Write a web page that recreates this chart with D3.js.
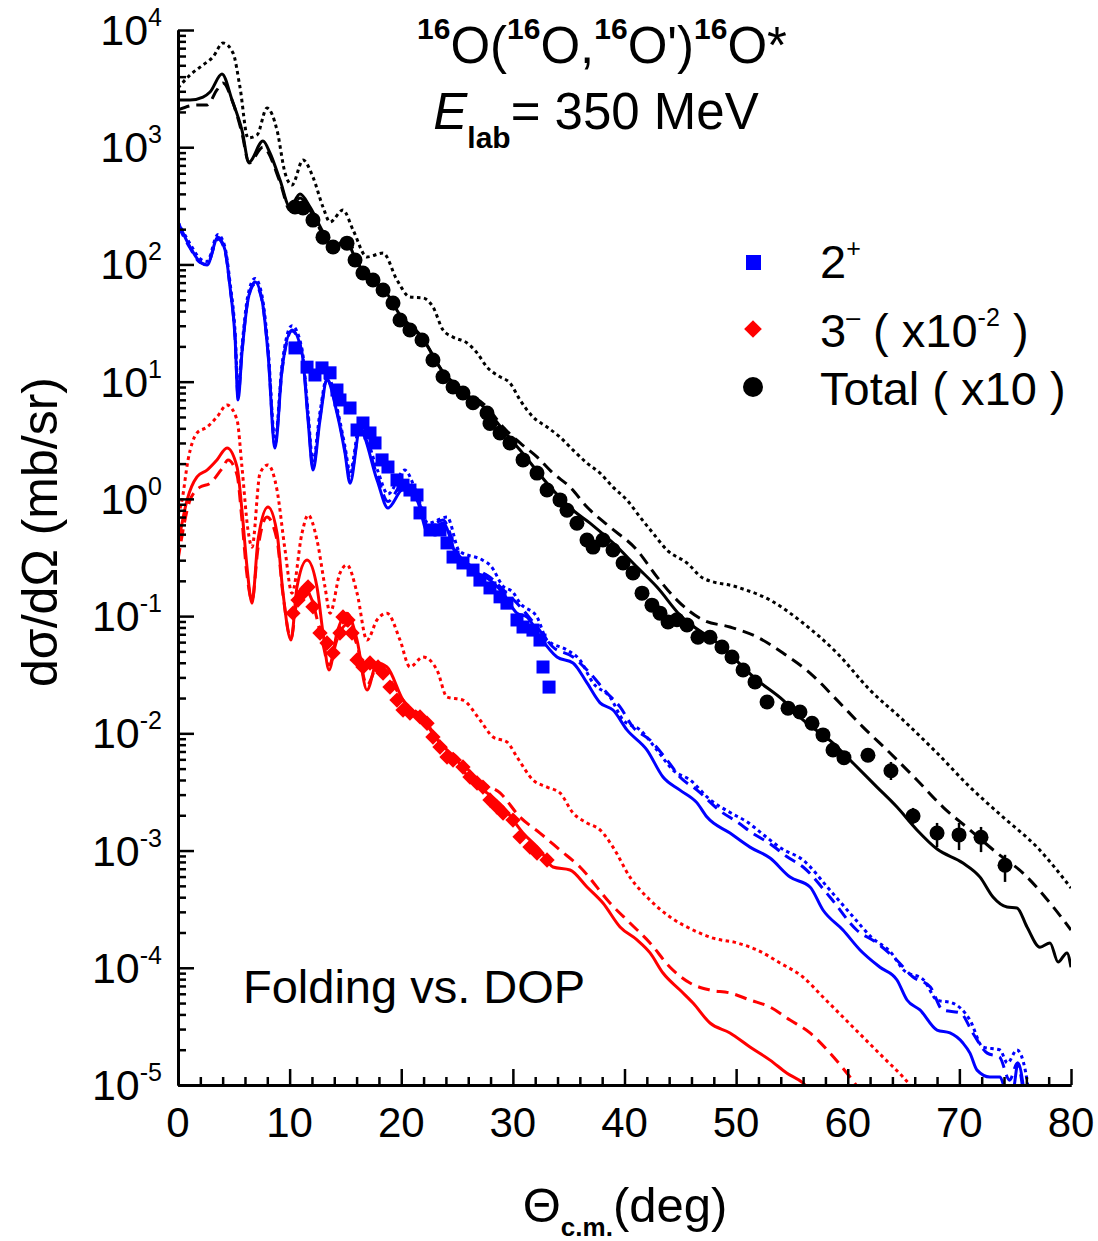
<!DOCTYPE html>
<html>
<head>
<meta charset="utf-8">
<script src="https://cdn.jsdelivr.net/npm/d3@7/dist/d3.min.js"></script>
<style>
  body { margin: 0; background: #fff; }
  text { font-family: "Liberation Sans", Arial, sans-serif; fill: #000; }
</style>
</head>
<body>
<div id="chart"></div>
<script>
// ---- data: [theta (deg), dsigma/dOmega (mb/sr)] ----
const totCirc = [[10.48,309],[11.2,303],[12.09,239],[12.99,171],[13.89,141],[15.14,152],[15.86,109],[16.57,84.5],[17.47,73.6],[18.37,60.5],[19.26,46.9],[19.89,33.6],[20.78,27.6],[21.86,22.7],[22.84,15.3],[23.74,11.0],[24.64,9.0],[25.53,8.0],[26.43,6.6],[27.68,5.4],[27.95,4.4],[28.85,3.65],[29.74,3.0],[30.91,2.15],[32.16,1.66],[33.06,1.19],[34.22,0.98],[34.85,0.80],[35.74,0.62],[36.64,0.446],[37.18,0.388],[38.07,0.446],[38.97,0.366],[39.87,0.284],[40.76,0.233],[41.57,0.157],[42.46,0.124],[43.18,0.106],[43.9,0.089],[44.7,0.093],[45.6,0.084],[46.58,0.066],[47.66,0.066],[48.73,0.0545],[49.63,0.0448],[50.62,0.0347],[51.69,0.0274],[52.77,0.0185],[54.65,0.0164],[55.72,0.0152],[56.8,0.0122],[57.78,0.0097],[58.68,0.0072],[59.66,0.0062],[61.81,0.0065],[63.87,0.0048],[65.85,0.00197],[68.0,0.00141],[69.97,0.00136],[71.94,0.00130],[74.09,0.00075]]
// error bars: [theta, low, high]
const totErr = [[63.87,0.0040,0.0057],[65.85,0.00169,0.00231],[68.0,0.00107,0.00172],[69.97,0.00101,0.00172],[71.94,0.00097,0.00159],[74.09,0.00054,0.00092]]
const totSolid = [[0,2530],[1.08,2530],[2.24,2680],[2.87,2960],[3.94,4210],[4.84,2530],[5.73,1400],[6.36,748],[7.61,1130],[8.24,893],[9.14,525],[10.03,309],[10.93,399],[11.83,309],[12.99,189],[13.89,138],[14.96,162],[16.04,105],[17.2,73.6],[18.37,63],[19.89,37.1],[21.86,24.0],[23.74,12.1],[25.53,8.17],[27.68,5.73],[29.12,3.87],[30.64,2.61],[33.59,1.19],[35.39,0.80],[36.91,0.622],[38.97,0.421],[41.12,0.262],[42.91,0.177],[44.97,0.102],[48.55,0.0568],[51.87,0.0285],[54.2,0.0192],[55.99,0.0130],[58.68,0.00826],[60.47,0.00558],[62.62,0.00348],[64.41,0.00235],[66.2,0.00150],[68.0,0.00103],[70.32,0.000783],[71.85,0.000594],[73.01,0.000402],[74.27,0.000330],[75.16,0.000324],[76.06,0.000223],[77.22,0.000150],[78.12,0.000163],[78.84,0.000112],[79.64,0.000134],[80,0.000101]]
const totDash = [[0,2080],[1.7,2290],[2.6,2290],[3.49,3080],[4.03,3530],[4.93,2380],[5.73,1320],[6.36,733],[7.61,1000],[9.14,505],[10.03,291],[10.93,369],[11.8,291],[13.89,142],[15.14,158],[16.57,86],[18.37,60.5],[19.89,34.9],[21.86,23.6],[23.74,12.1],[25.53,8.49],[27.68,6.08],[29.12,4.10],[30.64,3.0],[32.16,2.28],[33.59,1.66],[35.12,1.26],[36.64,0.853],[38.7,0.575],[41.12,0.366],[42.91,0.216],[44.7,0.137],[47.03,0.0927],[49.45,0.0807],[51.87,0.0664],[54.2,0.0484],[56.62,0.0327],[59.04,0.0192],[61.37,0.0113],[63.79,0.00679],[66.2,0.0040],[68.53,0.00235],[70.95,0.00150],[73.37,0.000953],[75.7,0.000643],[78.12,0.000357],[80,0.000210]]
const totDot = [[0,3200],[1.08,4130],[2.24,5030],[3.14,5890],[4.03,7750],[4.93,6370],[5.55,3260],[6.27,1200],[7.08,1270],[7.97,2160],[8.87,1400],[9.59,603],[10.21,476],[11.2,778],[12.09,557],[12.99,309],[13.62,230],[14.78,291],[15.68,197],[16.93,116],[18.37,125],[19.62,73.6],[20.78,52.7],[21.95,51.8],[22.84,43.4],[23.74,27.6],[24.64,24.0],[25.89,21.4],[26.79,17.6],[27.68,13.3],[28.85,11.0],[29.74,9.75],[30.64,6.98],[31.8,5.0],[33.06,4.10],[34.22,3.37],[35.39,2.61],[36.64,2.02],[37.81,1.66],[38.97,1.26],[40.22,0.977],[41.39,0.70],[42.55,0.51],[43.81,0.366],[45.6,0.284],[47.03,0.211],[50.08,0.177],[53.04,0.137],[55.99,0.0873],[59.04,0.0484],[61.99,0.0234],[64.95,0.0130],[68.0,0.00679],[70.95,0.00348],[73.91,0.00193],[76.95,0.00107],[80,0.000479]]

const q2Sq = [[10.48,19.4],[11.56,13.3],[12.27,11.4],[12.9,13.1],[13.62,11.9],[14.24,8.49],[14.51,6.98],[15.41,5.96],[16.04,3.87],[16.57,4.44],[17.2,3.65],[17.65,3.0],[18.28,2.15],[18.81,1.87],[19.62,1.45],[20.16,1.31],[20.78,1.19],[21.41,1.08],[21.68,0.759],[22.58,0.543],[23.47,0.543],[24.1,0.421],[24.64,0.319],[25.53,0.284],[26.43,0.247],[27.05,0.203],[27.95,0.174],[28.85,0.146],[29.47,0.129],[30.37,0.0927],[30.91,0.0807],[31.8,0.076],[32.43,0.0625],[32.7,0.0368],[33.24,0.0248]]
const q2Solid = [[0,230],[1.08,141],[1.97,105],[2.6,98.9],[3.58,171],[4.21,133],[4.66,64.2],[5.11,24.0],[5.38,6.98],[5.73,17.6],[6.27,49.8],[6.9,70.8],[7.53,49.8],[8.06,17.6],[8.69,2.72],[9.32,12.6],[10.21,27.6],[11.11,17.6],[11.65,4.71],[12.09,1.76],[12.72,4.71],[13.35,10.3],[14.24,5.41],[14.96,2.46],[15.41,1.36],[16.3,3.87],[17.83,1.45],[18.81,0.836],[20.16,1.2],[21.41,0.977],[22.4,0.511],[23.74,0.622],[24.99,0.319],[26.79,0.233],[27.95,0.203],[29.12,0.157],[30.37,0.106],[31.27,0.0982],[32.43,0.0664],[33.95,0.0448],[35.39,0.0398],[36.64,0.0269],[37.81,0.0182],[38.97,0.0158],[40.22,0.0107],[42.02,0.0072],[43.45,0.00424],[44.97,0.00328],[46.5,0.00255],[47.39,0.00193],[49.45,0.00141],[51.24,0.00107],[53.04,0.000863],[54.83,0.000594],[56.62,0.000489],[57.78,0.000311],[59.57,0.000210],[61.1,0.000142],[62.89,0.000101],[64.41,7.87e-5],[65.31,5.31e-5],[66.47,4.37e-5],[68.0,2.94e-5],[69.16,2.78e-5],[70.32,2.28e-5],[70.95,1.87e-5],[71.58,1.34e-5],[72.74,1.17e-5],[73.64,1.17e-5],[74.2,9.0e-6],[74.8,9.0e-6],[75.25,1.54e-5],[75.8,8.7e-6]]
const q2Dash = [[0,215],[1.08,138],[1.97,104],[2.6,100],[3.58,165],[4.21,130],[4.66,64],[5.11,24],[5.38,7.5],[5.73,18],[6.27,50],[6.9,68],[7.53,49],[8.06,18],[8.69,2.9],[9.32,12.5],[10.21,27],[11.11,17.8],[11.65,5],[12.09,1.9],[12.72,5],[13.35,10.5],[14.24,5.6],[14.96,2.6],[15.41,1.5],[16.3,3.9],[17.83,1.6],[18.81,0.95],[20.16,1.35],[21.41,1.05],[22.4,0.58],[23.74,0.66],[24.99,0.35],[26.79,0.25],[27.95,0.215],[29.12,0.168],[30.0,0.14],[30.91,0.113],[32.16,0.0807],[33.59,0.0545],[35.39,0.0448],[36.64,0.0347],[38.43,0.0221],[39.6,0.0168],[40.76,0.0113],[42.29,0.00877],[43.81,0.00592],[44.97,0.00424],[46.5,0.00328],[48.5,0.0022],[50.1,0.00175],[51.5,0.0014],[53.0,0.00115],[54.6,0.00088],[56.0,0.000724],[58.4,0.000402],[60.8,0.000210],[62.6,0.000163],[64.4,0.000116],[65.85,8.34e-5],[67.4,6.85e-5],[68.5,4.37e-5],[70.1,4.11e-5],[71.2,2.78e-5],[72.5,1.87e-5],[73.6,1.73e-5],[74.5,1.10e-5],[75.2,1.54e-5],[75.7,9.0e-6]]
const q2Dot = [[0,230],[1.08,150],[1.97,112],[2.6,106],[3.58,180],[4.21,140],[4.66,70],[5.11,27],[5.38,8.5],[5.73,20],[6.27,55],[6.9,76],[7.53,54],[8.06,20],[8.69,3.2],[9.32,14],[10.21,30],[11.11,19],[11.65,5.5],[12.09,2.1],[12.72,5.5],[13.4,11.4],[14.24,6],[14.96,2.8],[15.41,1.7],[16.3,4.3],[17.83,1.8],[18.81,1.1],[20.3,1.76],[21.41,1.1],[22.4,0.62],[24.1,0.70],[25.2,0.36],[27.3,0.30],[28.0,0.27],[29.12,0.18],[30.0,0.16],[30.64,0.129],[32.16,0.0982],[33.06,0.0625],[34.85,0.0514],[36.0,0.0423],[37.18,0.0269],[38.7,0.0204],[39.87,0.0130],[41.39,0.0107],[42.91,0.0072],[44.35,0.00486],[45.87,0.0040],[47.7,0.0027],[49.5,0.0021],[51.0,0.00175],[52.5,0.00135],[54.0,0.00105],[55.99,0.00083],[58.4,0.00046],[60.5,0.000271],[62.1,0.000183],[63.9,0.000134],[65.0,9.57e-5],[66.8,7.87e-5],[68.0,5.31e-5],[69.4,5.0e-5],[70.95,3.58e-5],[72.1,2.11e-5],[73.64,1.99e-5],[74.3,1.54e-5],[75.16,1.99e-5],[75.9,1.34e-5],[76.2,9.0e-6]]

const q3Dia = [[10.3,0.106],[10.75,0.137],[11.2,0.157],[11.65,0.177],[12.09,0.120],[12.72,0.0718],[13.35,0.059],[13.89,0.0484],[14.51,0.0718],[14.78,0.0982],[15.23,0.0927],[15.59,0.0718],[16.04,0.0423],[16.57,0.0368],[17.2,0.0398],[17.92,0.0368],[18.37,0.0327],[18.99,0.0248],[19.62,0.0192],[20.16,0.0158],[20.78,0.0149],[21.68,0.0138],[22.31,0.0122],[22.84,0.0093],[23.47,0.00764],[24.1,0.00628],[24.64,0.00592],[25.53,0.00516],[26.16,0.00424],[26.79,0.00377],[27.32,0.00348],[27.95,0.0027],[28.58,0.00235],[29.12,0.00209],[30.01,0.00182],[30.64,0.00131],[31.53,0.00107],[32.16,0.000953],[33.06,0.00083]]
const q3Solid = [[0,0.404],[0.81,0.977],[1.7,1.54],[2.6,1.76],[3.49,2.15],[4.39,2.72],[5.29,1.87],[5.73,0.80],[6.18,0.262],[6.63,0.129],[7.17,0.446],[8.06,0.853],[8.87,0.511],[9.41,0.157],[10.12,0.0625],[10.66,0.177],[11.56,0.301],[12.45,0.177],[12.99,0.0718],[13.53,0.0347],[14.24,0.0718],[15.14,0.106],[16.04,0.0625],[16.93,0.0234],[17.83,0.0398],[18.72,0.0368],[20.16,0.0192],[21.95,0.0130],[23.47,0.00826],[24.99,0.00592],[26.16,0.0040],[27.68,0.0031],[29.12,0.00235],[30.91,0.00141],[32.43,0.00101],[33.59,0.000724],[35.12,0.000683],[36.64,0.000489],[38.07,0.000357],[39.6,0.000223],[41.12,0.000173],[42.29,0.000134],[43.45,9.02e-5],[44.97,6.46e-5],[46.14,5.0e-5],[47.66,3.38e-5],[49.45,2.78e-5],[51.24,2.11e-5],[53.04,1.63e-5],[54.56,1.26e-5],[55.99,1.04e-5],[56.6,9.0e-6]]
const q3Dash = [[0,0.301],[1.08,0.977],[1.97,1.26],[2.87,1.36],[4.03,1.87],[4.48,2.15],[5.29,1.6],[5.73,0.66],[6.18,0.224],[6.63,0.137],[7.17,0.381],[7.97,0.70],[8.87,0.446],[9.41,0.151],[10.12,0.065],[10.66,0.137],[11.2,0.177],[12.0,0.137],[12.9,0.0625],[13.53,0.0383],[14.24,0.0625],[15.05,0.0839],[16.04,0.0567],[16.93,0.0258],[17.83,0.036],[18.99,0.0285],[20.16,0.0192],[21.95,0.0135],[23.47,0.0084],[24.99,0.00628],[27.05,0.00385],[28.85,0.0031],[30.64,0.00193],[32.43,0.00141],[34.22,0.00101],[36.01,0.000724],[38.7,0.000357],[40.49,0.000241],[42.29,0.000163],[44.08,0.000101],[45.87,7.41e-5],[47.66,6.46e-5],[49.45,6.1e-5],[51.24,5.31e-5],[53.04,4.62e-5],[54.83,3.58e-5],[56.62,2.78e-5],[58.41,1.87e-5],[60.2,1.17e-5],[61.1,9.0e-6]]
const q3Dot = [[0,0.728],[0.36,0.977],[0.9,2.15],[1.7,3.65],[2.6,4.10],[3.49,5.0],[4.39,6.32],[5.29,4.71],[5.73,1.87],[6.27,0.543],[6.63,0.388],[7.35,1.66],[8.06,1.95],[8.87,1.19],[9.59,0.366],[10.21,0.157],[11.11,0.511],[11.65,0.728],[12.45,0.446],[13.17,0.177],[13.62,0.106],[14.51,0.233],[15.14,0.273],[16.04,0.157],[16.93,0.0625],[17.83,0.0927],[18.72,0.106],[19.89,0.0625],[20.78,0.0368],[21.95,0.0448],[23.2,0.0347],[24.1,0.0204],[25.53,0.0192],[27.05,0.0130],[28.22,0.0093],[29.47,0.00843],[30.37,0.00628],[31.8,0.0040],[33.06,0.00348],[34.22,0.0031],[35.39,0.00209],[36.64,0.00172],[37.81,0.0015],[38.97,0.00107],[40.49,0.000594],[42.29,0.000378],[44.08,0.000271],[46.14,0.00021],[47.93,0.000179],[50.08,0.000163],[51.87,0.000142],[53.93,0.00011],[55.99,8.34e-5],[57.78,5.63e-5],[59.57,3.8e-5],[61.37,2.56e-5],[63.16,1.73e-5],[64.95,1.17e-5],[66.0,9.0e-6]]

const xTicks = [0, 10, 20, 30, 40, 50, 60, 70, 80]
const yExps = [-5, -4, -3, -2, -1, 0, 1, 2, 3, 4]

// ---- layout ----
const W = 1098, H = 1241
const margin = {left: 178, right: 27, top: 30, bottom: 156}
const pw = W - margin.left - margin.right
const ph = H - margin.top - margin.bottom

const svg = d3.select("#chart").append("svg")
    .attr("width", W)
    .attr("height", H)

const x = d3.scaleLinear().domain([0, 80]).range([margin.left, margin.left + pw])
const y = d3.scaleLog().domain([1e-5, 1e4]).range([margin.top + ph, margin.top])

svg.append("clipPath").attr("id", "plotclip")
  .append("rect")
    .attr("x", margin.left).attr("y", margin.top - 2)
    .attr("width", pw).attr("height", ph + 2)

const plot = svg.append("g").attr("clip-path", "url(#plotclip)")

const line = d3.line()
    .x(d => x(d[0]))
    .y(d => y(d[1]))
    .curve(d3.curveMonotoneX)

function curve(data, color, dash) {
    plot.append("path")
        .datum(data)
        .attr("d", line)
        .attr("fill", "none")
        .attr("stroke", color)
        .attr("stroke-width", 3)
        .attr("stroke-dasharray", dash)
}

const DASH = "12,7", DOT = "3.5,3.5"

curve(q3Dot, "#ff0000", DOT)
curve(q3Dash, "#ff0000", DASH)
curve(q3Solid, "#ff0000", null)
curve(q2Dot, "#0000ff", DOT)
curve(q2Dash, "#0000ff", DASH)
curve(q2Solid, "#0000ff", null)
curve(totDot, "#000", DOT)
curve(totDash, "#000", DASH)
curve(totSolid, "#000", null)

// error bars
plot.selectAll(".err")
    .data(totErr)
    .enter().append("line")
    .attr("x1", d => x(d[0])).attr("x2", d => x(d[0]))
    .attr("y1", d => y(d[1])).attr("y2", d => y(d[2]))
    .attr("stroke", "#000").attr("stroke-width", 2.5)

// markers
plot.selectAll(".sq")
    .data(q2Sq)
    .enter().append("rect")
    .attr("x", d => x(d[0]) - 6.5).attr("y", d => y(d[1]) - 6.5)
    .attr("width", 13).attr("height", 13)
    .attr("fill", "#0000ff")

plot.selectAll(".dia")
    .data(q3Dia)
    .enter().append("path")
    .attr("d", d3.symbol().type(d3.symbolDiamond2).size(150))
    .attr("transform", d => "translate(" + x(d[0]) + "," + y(d[1]) + ")")
    .attr("fill", "#ff0000")

plot.selectAll(".circ")
    .data(totCirc)
    .enter().append("circle")
    .attr("cx", d => x(d[0])).attr("cy", d => y(d[1]))
    .attr("r", 7.5)
    .attr("fill", "#000")

// ---- axes ----
const yMajor = yExps.map(e => Math.pow(10, e))
const yMinor = y.ticks().filter(v => {
    const m = v / Math.pow(10, Math.floor(Math.log10(v) + 1e-9))
    return Math.abs(m - 1) > 1e-6
})
const xMinor = d3.range(0, 81, 2).filter(v => v % 10 !== 0)

function styleAxis(g) {
    g.select(".domain").attr("stroke-width", 3).attr("stroke", "#000")
    g.selectAll(".tick line").attr("stroke-width", 2.5).attr("stroke", "#000")
    g.selectAll(".tick text").remove()
}

svg.append("g")
    .attr("transform", "translate(" + margin.left + ",0)")
    .call(d3.axisLeft(y).tickValues(yMinor).tickSize(-8).tickSizeOuter(0))
    .call(styleAxis)
svg.append("g")
    .attr("transform", "translate(" + margin.left + ",0)")
    .call(d3.axisLeft(y).tickValues(yMajor).tickSize(-16).tickSizeOuter(0))
    .call(styleAxis)

svg.append("g")
    .attr("transform", "translate(0," + (margin.top + ph) + ")")
    .call(d3.axisBottom(x).tickValues(xMinor).tickSize(-8).tickSizeOuter(0))
    .call(styleAxis)
svg.append("g")
    .attr("transform", "translate(0," + (margin.top + ph) + ")")
    .call(d3.axisBottom(x).tickValues(xTicks).tickSize(-16).tickSizeOuter(0))
    .call(styleAxis)

// tick labels
svg.selectAll(".xlab")
    .data(xTicks)
    .enter().append("text")
    .attr("x", d => x(d)).attr("y", margin.top + ph + 52)
    .attr("text-anchor", "middle")
    .attr("font-size", 42)
    .text(d => d)

const ylab = svg.selectAll(".ylab")
    .data(yExps)
    .enter().append("text")
    .attr("x", 162).attr("y", d => y(Math.pow(10, d)) + 15)
    .attr("text-anchor", "end")
    .attr("font-size", 43)
ylab.append("tspan").text("10")
ylab.append("tspan").attr("font-size", 25).attr("dy", -19).text(d => d)

// axis titles
svg.append("text")
    .attr("transform", "translate(57,532) rotate(-90)")
    .attr("text-anchor", "middle")
    .attr("font-size", 50)
    .text("dσ/dΩ (mb/sr)")

const xt = svg.append("text")
    .attr("x", 625).attr("y", 1222)
    .attr("text-anchor", "middle")
    .attr("font-size", 49)
xt.append("tspan").text("Θ")
xt.append("tspan").attr("font-size", 26).attr("font-weight", "bold").attr("dy", 14).text("c.m.")
xt.append("tspan").attr("dy", -14).text("(deg)")

// title
const t1 = svg.append("text")
    .attr("x", 602).attr("y", 63)
    .attr("text-anchor", "middle")
    .attr("font-size", 51)
const parts = ["O(", "O,", "O')", "O*"]
parts.forEach(p => {
    t1.append("tspan").attr("font-size", 30).attr("font-weight", "bold").attr("dy", -24).text("16")
    t1.append("tspan").attr("dy", 24).text(p)
})

const t2 = svg.append("text")
    .attr("x", 596).attr("y", 129)
    .attr("text-anchor", "middle")
    .attr("font-size", 51)
t2.append("tspan").attr("font-style", "italic").text("E")
t2.append("tspan").attr("font-size", 30).attr("font-weight", "bold").attr("dy", 19).text("lab")
t2.append("tspan").attr("dy", -19).text("= 350 MeV")

svg.append("text")
    .attr("x", 243).attr("y", 1003)
    .attr("font-size", 47)
    .text("Folding vs. DOP")

// legend
const lg = svg.append("g")
lg.append("rect").attr("x", 746).attr("y", 255).attr("width", 15).attr("height", 15).attr("fill", "#0000ff")
lg.append("path")
    .attr("d", d3.symbol().type(d3.symbolDiamond2).size(200))
    .attr("transform", "translate(753,329)")
    .attr("fill", "#ff0000")
lg.append("circle").attr("cx", 753).attr("cy", 387).attr("r", 10).attr("fill", "#000")

const l1 = lg.append("text").attr("x", 820).attr("y", 278).attr("font-size", 47)
l1.append("tspan").text("2")
l1.append("tspan").attr("font-size", 25).attr("dy", -21).text("+")

const l2 = lg.append("text").attr("x", 820).attr("y", 347).attr("font-size", 47)
l2.append("tspan").text("3")
l2.append("tspan").attr("font-size", 25).attr("dy", -21).text("\u2013")
l2.append("tspan").attr("dy", 21).text(" ( x10")
l2.append("tspan").attr("font-size", 25).attr("dy", -21).text("-2")
l2.append("tspan").attr("dy", 21).text(" )")

lg.append("text").attr("x", 820).attr("y", 405).attr("font-size", 47).text("Total ( x10 )")
</script>
</body>
</html>
